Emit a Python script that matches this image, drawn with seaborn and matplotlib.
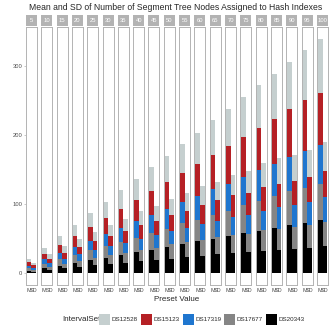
import pandas as pd
import seaborn as sns
import matplotlib.pyplot as plt
from matplotlib.patches import Patch, Rectangle

# preset values (one facet each)
presets = [5, 10, 15, 20, 25, 30, 35, 40, 45, 50,
           55, 60, 65, 70, 75, 80, 85, 90, 95, 100]
stats = ["M", "SD"]
interval_sets = ["DS12528", "DS15123", "DS17319", "DS17677", "DS20343"]
set_colors = ["#c5cfcf", "#b52025", "#1f76cf", "#858585", "#000000"]

# mean number of nodes per interval set
m_ds20343 = [4, 7.5, 11.3, 15.2, 19.3, 22.8, 26.5, 30.5, 34.5, 38.5,
             42.5, 47, 50, 54, 58.5, 62, 66, 69.6, 73.4, 77]
m_ds17677 = [3.7, 6.0, 9.0, 11.8, 14.1, 17.0, 19.5, 21.5, 24.2, 26.5,
             30.5, 31, 34.5, 37, 41, 43, 46, 49.4, 50.6, 52.5]
m_ds17319 = [3.6, 7.0, 9.4, 11.3, 14.1, 17.2, 20.2, 23.5, 26.1, 29.0,
             31, 34, 37.5, 39, 40.1, 45, 46.5, 49, 53, 56]
m_ds15123 = [5.4, 8.2, 12.0, 16.0, 20.5, 23.2, 27.3, 31.0, 34.8, 38.5,
             41.5, 46, 49.5, 54, 58, 60.6, 65.2, 69.7, 73.7, 76.5]
m_ds12528 = [3.8, 8.6, 12.3, 16.2, 19.7, 23.1, 27.5, 30.5, 34.9, 38.2,
             42.5, 46, 50.5, 54, 57.9, 62.4, 65.3, 69.3, 73.3, 77]

# standard deviation per interval set
sd_ds20343 = [2.5, 5.5, 7.5, 9.8, 12.3, 13.8, 15.8, 18, 19.6, 21.6,
              24, 26, 27.5, 30, 31, 33, 34, 35, 36.7, 39.6]
sd_ds17677 = [3.0, 4.2, 6.5, 8.2, 10.0, 12.7, 14.2, 16.5, 17.8, 20.4,
              21, 23, 25.2, 26, 26.5, 30, 31, 32, 33.3, 34.4]
sd_ds17319 = [2.5, 5.5, 7.5, 9.5, 11.0, 13.0, 14.8, 16.0, 17.9, 18.8,
              21, 23, 23.3, 25.6, 27, 28, 31.6, 32.5, 33, 36.6]
sd_ds15123 = [4.0, 6.3, 8.7, 11.3, 13.2, 15.0, 17.0, 19.8, 21.3, 23.4,
              25, 27.5, 30, 31.4, 32.5, 34, 33.4, 34.5, 37, 38.4]
sd_ds12528 = [3.2, 6.0, 9.1, 10.9, 13.2, 15.8, 17.5, 19.7, 21.2, 23.1,
              26, 27.3, 27, 29, 31, 35.5, 37, 38, 39, 42]

m_values = {"DS12528": m_ds12528, "DS15123": m_ds15123, "DS17319": m_ds17319,
            "DS17677": m_ds17677, "DS20343": m_ds20343}
sd_values = {"DS12528": sd_ds12528, "DS15123": sd_ds15123, "DS17319": sd_ds17319,
             "DS17677": sd_ds17677, "DS20343": sd_ds20343}

rows = []
for stat, table in [("M", m_values), ("SD", sd_values)]:
    # bottom of the stack first
    for s in interval_sets[::-1]:
        for p, v in zip(presets, table[s]):
            rows.append({"preset": p, "stat": stat, "IntervalSet": s, "value": v})
df = pd.DataFrame(rows)
df["cum"] = df.groupby(["preset", "stat"])["value"].cumsum()

sns.set_theme(style="white")
plt.rcParams["font.family"] = ["Liberation Sans", "DejaVu Sans"]

border = "#b3b3b3"
fig, axes = plt.subplots(1, len(presets), figsize=(3.32, 3.32), dpi=100, sharey=True)
fig.subplots_adjust(left=0.078, right=0.988, top=0.919, bottom=0.1416, wspace=0.39)

for ax, p in zip(axes, presets):
    sub = df[df["preset"] == p]
    # draw the cumulative bars from the top segment down
    for s, c in zip(interval_sets, set_colors):
        sns.barplot(data=sub[sub["IntervalSet"] == s], x="stat", y="cum",
                    order=stats, color=c, saturation=1, width=1.0,
                    errorbar=None, linewidth=0, ax=ax)
    ax.set_xlim(-0.65, 1.65)
    ax.set_ylim(-16.7, 357.2)
    ax.set_xlabel("")
    ax.set_ylabel("")
    for sp in ax.spines.values():
        sp.set_color(border)
        sp.set_linewidth(0.7)
    ax.tick_params(axis="x", length=1.5, width=0.5, color=border, pad=1,
                   labelsize=4.0, labelcolor="#4d4d4d")
    ax.tick_params(axis="y", length=1.5, width=0.5, color=border, pad=1,
                   labelsize=4.2, labelcolor="#4d4d4d", left=(ax is axes[0]))
    ax.add_patch(Rectangle((0, 1.005), 1, 0.04, transform=ax.transAxes,
                           facecolor=border, edgecolor="none", clip_on=False))
    ax.text(0.5, 1.025, str(p), transform=ax.transAxes, ha="center", va="center",
            fontsize=4.2, color="white")

axes[0].set_yticks([0, 100, 200, 300])

fig.text(0.087, 0.978, "Mean and SD of Number of Segment Tree Nodes Assigned to Hash Indexes",
         fontsize=6.2, ha="left", va="center")
fig.text(0.533, 0.097, "Preset Value", fontsize=5.8, ha="center", va="center")
fig.text(0.186, 0.039, "IntervalSet", fontsize=5.8, ha="left", va="center")

handles = [Patch(facecolor=c, edgecolor="none") for c in set_colors]
fig.legend(handles, interval_sets, loc="center left", bbox_to_anchor=(0.298, 0.039),
           ncol=5, frameon=False, fontsize=4.5, handlelength=1.76, handleheight=2.33,
           handletextpad=0.25, columnspacing=0.5, borderpad=0, borderaxespad=0)

fig.savefig("out.png", dpi=100)
